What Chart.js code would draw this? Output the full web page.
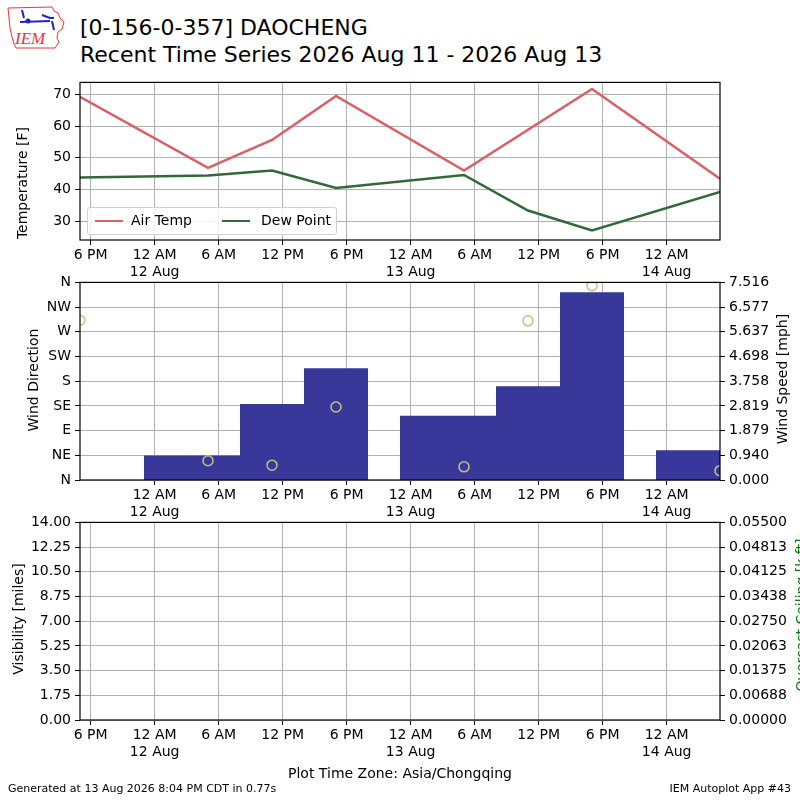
<!DOCTYPE html>
<html>
<head>
<meta charset="utf-8">
<script src="https://cdn.jsdelivr.net/npm/chart.js@4.4.0/dist/chart.umd.min.js"></script>
<style>
body { margin: 0; background: #fff; }
#page { position: relative; width: 800px; height: 800px; overflow: hidden; font-family: 'DejaVu Sans', sans-serif; color: #000; }
canvas { position: absolute; left: 0; }
.txt { position: absolute; white-space: nowrap; }
.vlab { position: absolute; white-space: nowrap; font-size: 14px; transform: translate(-50%, -50%) rotate(-90deg); }
#legend { position: absolute; left: 87px; top: 207px; width: 248px; height: 26px; border: 1px solid #d0d0d0; border-radius: 3px; background: rgba(255,255,255,0.85); font-size: 14px; }
#legend span.ln { position: absolute; top: 12px; width: 28px; height: 0; border-top: 2.5px solid; }
#legend span.lt { position: absolute; top: 4px; }
</style>
</head>
<body>
<div id="page">
  <svg style="position:absolute;left:6px;top:4px" width="62" height="48" viewBox="0 0 62 48">
    <polygon points="2,4 46,3 48,7 52,9 54,14 58,18 56,25 52,28 51,34 53,38 49,44 10,44 8,40 6,33 4,24 3,14" fill="none" stroke="#e33" stroke-width="1"/>
    <path d="M16,6 L18,14 M14,18 L44,17 M36,11 L44,14 L48,14 M46,17 L48,26" stroke="#22c" stroke-width="2" fill="none"/>
    <circle cx="22" cy="17" r="2.5" fill="#22c"/>
    <text x="9" y="40" font-family="'Liberation Serif', serif" font-style="italic" font-size="17" fill="#e33">IEM</text>
  </svg>
  <div class="txt" style="left:80px;top:15px;font-size:22px;">[0-156-0-357] DAOCHENG</div>
  <div class="txt" style="left:80px;top:42px;font-size:22px;">Recent Time Series 2026 Aug 11 - 2026 Aug 13</div>

  <canvas id="temp" width="800" height="210" style="top:70px"></canvas>
  <canvas id="wind" width="800" height="250" style="top:270px"></canvas>
  <canvas id="vis" width="800" height="250" style="top:510px"></canvas>

  <div id="legend">
    <span class="ln" style="left:7px;border-color:#db5f64"></span><span class="lt" style="left:43px">Air Temp</span>
    <span class="ln" style="left:134px;border-color:#33693a"></span><span class="lt" style="left:173px">Dew Point</span>
  </div>

  <div class="vlab" style="left:22px;top:183px">Temperature [F]</div>
  <div class="vlab" style="left:33px;top:380px">Wind Direction</div>
  <div class="vlab" style="left:782px;top:379px">Wind Speed [mph]</div>
  <div class="vlab" style="left:18px;top:619px">Visibility [miles]</div>
  <div class="vlab" style="left:801px;top:615px;color:#008000">Overcast Ceiling [k ft]</div>

  <div class="txt" style="left:0;width:800px;text-align:center;top:765px;font-size:14px;">Plot Time Zone: Asia/Chongqing</div>
  <div class="txt" style="left:8px;top:782px;font-size:11px;">Generated at 13 Aug 2026 8:04 PM CDT in 0.77s</div>
  <div class="txt" style="right:9px;top:782px;font-size:11px;">IEM Autoplot App #43</div>
</div>

<script>
// hours counted from 11 Aug 2026 00:00 local time
var xStart = 17;
var xEnd = 77;
var tickHours = [18, 24, 30, 36, 42, 48, 54, 60, 66, 72];
var tickLabels = ['6 PM', ['12 AM', '12 Aug'], '6 AM', '12 PM', '6 PM', ['12 AM', '13 Aug'], '6 AM', '12 PM', '6 PM', ['12 AM', '14 Aug']];
var windTickHours = [24, 30, 36, 42, 48, 54, 60, 66, 72];

var tempHours = [17, 29, 35, 41, 53, 65, 77];
var airTemp = [69.2, 46.8, 55.6, 69.5, 46.0, 71.7, 43.4];
var dewHours = [17, 29, 35, 41, 53, 59, 65, 77];
var dewPoint = [43.8, 44.4, 46.0, 40.5, 44.6, 33.4, 27.1, 39.2];
var tempTicks = [30, 40, 50, 60, 70];

var windHours = [17, 29, 35, 41, 53, 59, 65, 77];
var windDir = [291, 35, 27, 133, 24, 290, 354, 17];
var barStart = [23, 32, 38, 47, 56, 62, 71];
var barEnd = [32, 38, 44, 56, 62, 68, 77];
var barSpeed = [0.93, 2.89, 4.25, 2.44, 3.57, 7.14, 1.13];
var dirLabels = ['N', 'NE', 'E', 'SE', 'S', 'SW', 'W', 'NW', 'N'];
var speedTicks = [0, 0.9395, 1.879, 2.8185, 3.758, 4.6975, 5.637, 6.5765, 7.516];
var speedLabels = ['0.000', '0.940', '1.879', '2.819', '3.758', '4.698', '5.637', '6.577', '7.516'];

var visTicks = [0, 1.75, 3.5, 5.25, 7, 8.75, 10.5, 12.25, 14];
var ceilTicks = [0, 0.006875, 0.01375, 0.020625, 0.0275, 0.034375, 0.04125, 0.048125, 0.055];
var ceilLabels = ['0.00000', '0.00688', '0.01375', '0.02063', '0.02750', '0.03438', '0.04125', '0.04813', '0.05500'];

Chart.defaults.font.family = "'DejaVu Sans', sans-serif";
Chart.defaults.font.size = 14;
Chart.defaults.color = '#000';
Chart.defaults.animation = false;

var gridColor = '#b0b0b0';

var framePlugin = {
    id: 'frame',
    afterDraw: function (chart) {
        var a = chart.chartArea;
        var ctx = chart.ctx;
        ctx.save();
        ctx.strokeStyle = '#000';
        ctx.lineWidth = 1.2;
        ctx.strokeRect(a.left, a.top, a.right - a.left, a.bottom - a.top);
        ctx.restore();
    }
};

function setTicks(list) {
    return function (axis) {
        axis.ticks = list.map(function (v) { return {value: v}; });
    };
}

function timeAxis(ticks, z) {
    return {
        type: 'linear',
        min: xStart,
        max: xEnd,
        z: z || 0,
        afterBuildTicks: setTicks(ticks),
        afterFit: function (s) { s.height = 40; },
        border: {display: false},
        grid: {color: gridColor, lineWidth: 1, tickColor: '#000', tickLength: 5},
        ticks: {
            autoSkip: false,
            maxRotation: 0,
            padding: 2,
            callback: function (v) {
                var i = tickHours.indexOf(v);
                return i < 0 ? '' : tickLabels[i];
            }
        }
    };
}

function leftAxis(min, max, ticks, fmt, z) {
    return {
        position: 'left',
        min: min,
        max: max,
        z: z || 0,
        afterBuildTicks: setTicks(ticks),
        afterFit: function (s) { s.width = 80; },
        border: {display: false},
        grid: {color: gridColor, lineWidth: 1, tickColor: '#000', tickLength: 5},
        ticks: {padding: 4, autoSkip: false, callback: fmt}
    };
}

function rightAxis(min, max, ticks, labels) {
    return {
        position: 'right',
        min: min,
        max: max,
        afterBuildTicks: setTicks(ticks),
        afterFit: function (s) { s.width = 80; },
        border: {display: false},
        grid: {drawOnChartArea: false, tickColor: '#000', tickLength: 5},
        ticks: {padding: 4, autoSkip: false, callback: function (v, i) { return labels[i]; }}
    };
}

// temperature panel
new Chart(document.getElementById('temp'), {
    type: 'line',
    data: {
        datasets: [{
            label: 'Air Temp',
            data: tempHours.map(function (h, i) { return {x: h, y: airTemp[i]}; }),
            borderColor: '#db5f64',
            borderWidth: 2.5,
            pointRadius: 0,
            tension: 0
        }, {
            label: 'Dew Point',
            data: dewHours.map(function (h, i) { return {x: h, y: dewPoint[i]}; }),
            borderColor: '#33693a',
            borderWidth: 2.5,
            pointRadius: 0,
            tension: 0
        }]
    },
    options: {
        responsive: false,
        devicePixelRatio: 1,
        layout: {padding: {top: 10, right: 80, left: 0, bottom: 0}},
        plugins: {legend: {display: false}, tooltip: {enabled: false}},
        scales: {
            x: timeAxis(tickHours),
            y: leftAxis(24.1, 73.75, tempTicks, function (v) { return v; })
        }
    },
    plugins: [framePlugin]
});

// wind panel: step bars of speed, circles of direction
var barPoints = [];
for (var i = 0; i < barStart.length; i++) {
    barPoints.push({x: barStart[i], y: 0});
    barPoints.push({x: barStart[i], y: barSpeed[i]});
    barPoints.push({x: barEnd[i], y: barSpeed[i]});
    barPoints.push({x: barEnd[i], y: 0});
}

new Chart(document.getElementById('wind'), {
    type: 'line',
    data: {
        datasets: [{
            label: 'Wind Direction',
            yAxisID: 'y',
            data: windHours.map(function (h, i) { return {x: h, y: windDir[i]}; }),
            showLine: false,
            pointStyle: 'circle',
            pointRadius: 5,
            pointBackgroundColor: 'rgba(0,0,0,0)',
            pointBorderColor: '#c3c37a',
            pointBorderWidth: 1.5,
            order: 0
        }, {
            label: 'Wind Speed',
            yAxisID: 'y2',
            data: barPoints,
            borderColor: 'rgba(0,0,0,0)',
            borderWidth: 0,
            backgroundColor: '#38389a',
            fill: 'origin',
            pointRadius: 0,
            tension: 0,
            order: 1
        }]
    },
    options: {
        responsive: false,
        devicePixelRatio: 1,
        layout: {padding: {top: 10, right: 0, left: 0, bottom: 0}},
        plugins: {legend: {display: false}, tooltip: {enabled: false}},
        scales: {
            x: timeAxis(windTickHours, 1),
            y: leftAxis(0, 360, [0, 45, 90, 135, 180, 225, 270, 315, 360], function (v, i) { return dirLabels[i]; }, 1),
            y2: rightAxis(0, 7.516, speedTicks, speedLabels)
        }
    },
    plugins: [framePlugin]
});

// visibility / ceiling panel (no observations)
new Chart(document.getElementById('vis'), {
    type: 'line',
    data: {
        datasets: [
            {label: 'Visibility', yAxisID: 'y', data: [], borderColor: '#000'},
            {label: 'Ceiling', yAxisID: 'y2', data: [], borderColor: '#008000'}
        ]
    },
    options: {
        responsive: false,
        devicePixelRatio: 1,
        layout: {padding: {top: 10, right: 0, left: 0, bottom: 0}},
        plugins: {legend: {display: false}, tooltip: {enabled: false}},
        scales: {
            x: timeAxis(tickHours),
            y: leftAxis(0, 14, visTicks, function (v) { return v.toFixed(2); }),
            y2: rightAxis(0, 0.055, ceilTicks, ceilLabels)
        }
    },
    plugins: [framePlugin]
});
</script>
</body>
</html>
